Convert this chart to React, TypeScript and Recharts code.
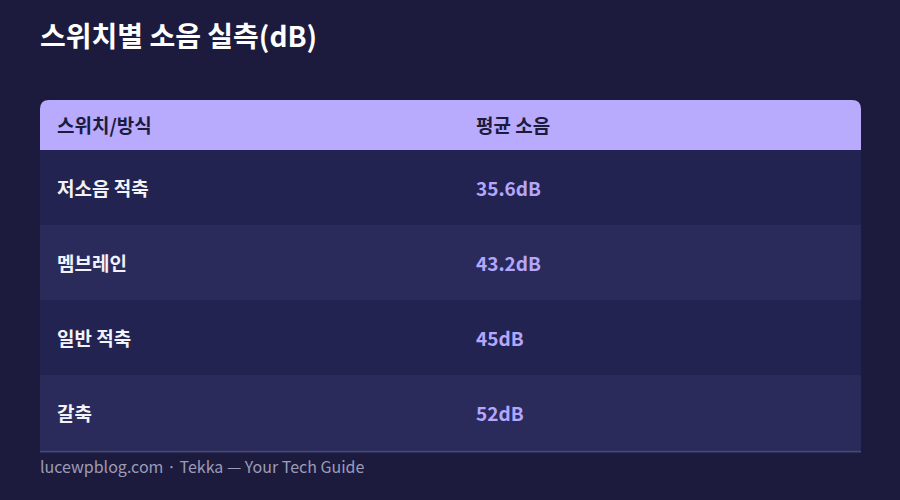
import React from 'react';
import { BarChart, Bar, XAxis, YAxis, LabelList, Customized } from 'recharts';

const title = '스위치별 소음 실측(dB)';
const headers = ['스위치/방식', '평균 소음'];
const switches = ['저소음 적축', '멤브레인', '일반 적축', '갈축'];
const noise = [35.6, 43.2, 45, 52];
const footer = 'lucewpblog.com · Tekka — Your Tech Guide';

const data = switches.map((name, i) => ({ name, value: noise[i] }));

const FONT = '"Noto Sans CJK KR", "Noto Sans", sans-serif';
const BG = '#1c1b3e';
const ROW_A = '#222350';
const ROW_B = '#2a2b5b';
const HEAD = '#b8aafd';
const VALUE = '#b4a7fb';
const VALUE_COL = 436;
const FS = 19;

const RowBackground = (props: any) => {
  const { x, y, width, height, index } = props;
  return <rect x={x} y={y} width={width} height={height} fill={index % 2 === 0 ? ROW_A : ROW_B} />;
};

const NameLabel = (props: any) => {
  const { x, y, height, value } = props;
  return (
    <text x={x + 17} y={y + height / 2} dy={8} fill="#f2f2fa" fontSize={FS} fontWeight={700} fontFamily={FONT}>
      {value}
    </text>
  );
};

const ValueLabel = (props: any) => {
  const { x, y, height, value } = props;
  return (
    <text x={x + VALUE_COL} y={y + height / 2} dy={8} fill={VALUE} fontSize={FS} fontWeight={700} fontFamily={FONT}>
      {`${value}dB`}
    </text>
  );
};

const Decor = (props: any) => {
  const off = props.offset || { left: 40, top: 150, width: 821, height: 300 };
  const left = off.left;
  const top = off.top;
  const w = off.width;
  const bottom = top + off.height;
  const hh = 50;
  const r = 9;
  const y0 = top - hh;
  const path = `M${left},${top} L${left},${y0 + r} Q${left},${y0} ${left + r},${y0} L${left + w - r},${y0} Q${left + w},${y0} ${left + w},${y0 + r} L${left + w},${top} Z`;
  return (
    <g>
      <text x={40} y={37} dy={10} fill="#ffffff" fontSize={28} fontWeight={700} fontFamily={FONT}>
        {title}
      </text>
      <path d={path} fill={HEAD} />
      <text x={left + 17} y={y0 + hh / 2} dy={8} fill={BG} fontSize={FS} fontWeight={700} fontFamily={FONT}>
        {headers[0]}
      </text>
      <text x={left + VALUE_COL} y={y0 + hh / 2} dy={8} fill={BG} fontSize={FS} fontWeight={700} fontFamily={FONT}>
        {headers[1]}
      </text>
      <line x1={left} x2={left + w} y1={bottom + 1.5} y2={bottom + 1.5} stroke="#45467a" strokeWidth={2} />
      <text x={40} y={467} dy={6} fill="#9c9cb8" fontSize={16} fontFamily={FONT}>
        {footer}
      </text>
    </g>
  );
};

export default function App() {
  return (
    <div style={{ position: 'absolute', left: 0, top: 0, width: 900, height: 500, background: BG }}>
      <BarChart
        width={900}
        height={500}
        data={data}
        layout="vertical"
        margin={{ top: 150, right: 39, bottom: 50, left: 40 }}
        barCategoryGap={0}
      >
        <XAxis type="number" domain={[0, 60]} hide />
        <YAxis type="category" dataKey="name" hide />
        <Bar dataKey="value" fill="transparent" background={<RowBackground />} isAnimationActive={false}>
          <LabelList dataKey="name" content={<NameLabel />} />
          <LabelList dataKey="value" content={<ValueLabel />} />
        </Bar>
        <Customized component={Decor} />
      </BarChart>
    </div>
  );
}
